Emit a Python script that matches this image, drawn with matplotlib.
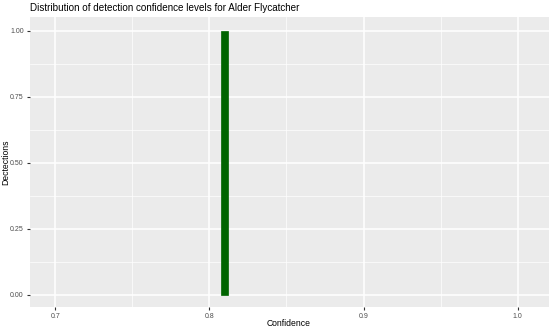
import matplotlib
matplotlib.use('Agg')
import matplotlib.pyplot as plt
import numpy as np

plt.rcParams['font.family'] = ['Liberation Sans', 'DejaVu Sans']

# histogram data: one bin with a single detection
bin_centers = [0.81]
counts = [1]
bin_width = 0.0046

x_ticks = [0.7, 0.8, 0.9, 1.0]
x_tick_labels = ['0.7', '0.8', '0.9', '1.0']
y_ticks = [0.0, 0.25, 0.5, 0.75, 1.0]
y_tick_labels = ['0.00', '0.25', '0.50', '0.75', '1.00']

W, H = 553, 332
fig = plt.figure(figsize=(W / 100, H / 100), dpi=100)
ax = fig.add_axes([30 / W, (H - 307) / H, (549 - 30) / W, (307 - 17) / H])

ax.set_facecolor('#EBEBEB')
for s in ax.spines.values():
    s.set_visible(False)

ax.set_xlim(0.6836, 1.0203)
ax.set_ylim(-0.046, 1.052)

ax.set_xticks(x_ticks)
ax.set_xticklabels(x_tick_labels)
ax.set_yticks(y_ticks)
ax.set_yticklabels(y_tick_labels)
ax.set_xticks([0.75, 0.85, 0.95], minor=True)
ax.set_yticks([0.125, 0.375, 0.625, 0.875], minor=True)

ax.grid(which='major', color='white', linewidth=1.1)
ax.grid(which='minor', color='white', linewidth=0.5)
ax.set_axisbelow(True)

ax.tick_params(which='major', length=2.5, width=0.8, color='#333333',
               labelsize=5.0, labelcolor='#4D4D4D', pad=2)
ax.tick_params(which='minor', length=0)

ax.bar(bin_centers, counts, width=bin_width, color='#006400', edgecolor='#006400', linewidth=0.5)

fig.text(289 / W, 1 - 323 / H, 'Confidence', fontsize=6.2, ha='center', va='center')
fig.text(5.5 / W, 1 - 162 / H, 'Dectections', fontsize=6.2, ha='center', va='center',
         rotation=90)
fig.text(30 / W, 1 - 8 / H, 'Distribution of detection confidence levels for Alder Flycatcher',
         fontsize=7.1, ha='left', va='center')

fig.savefig('out.png', dpi=100)
